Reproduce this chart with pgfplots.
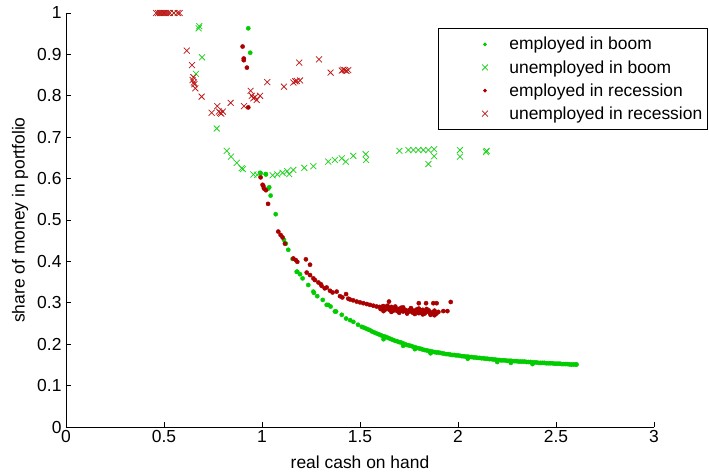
\documentclass[border=0pt]{standalone}
\usepackage{fontspec}
\setmainfont{Liberation Sans}
\usepackage{pgfplots}
\pgfplotsset{compat=1.18}
\definecolor{mgreen}{RGB}{0,204,0}
\definecolor{mgreenx}{RGB}{30,210,30}
\definecolor{mred}{RGB}{170,0,0}
\definecolor{mredx}{RGB}{190,25,25}
\begin{document}
\begin{tikzpicture}
\begin{axis}[
  name=ax,
  scale only axis, width=588bp, height=414bp,
  xmin=0, xmax=3, ymin=0, ymax=1,
  axis x line*=bottom, axis y line*=left,
  tick align=inside,
  xtick={0,0.5,1,1.5,2,2.5,3},
  ytick={0,0.1,0.2,0.3,0.4,0.5,0.6,0.7,0.8,0.9,1},
  major tick length=5bp,
  axis line style={line width=0.8bp, black},
  tick style={line width=0.8bp, black},
  font=\fontsize{17.5}{20}\selectfont,
  /pgf/number format/assume math mode=true,
  yticklabel style={xshift=-1bp},
  xlabel={real cash on hand}, ylabel={share of money in portfolio},
  xlabel style={at={(axis description cs:0.5,-0.0845)}, anchor=center},
  ylabel style={at={(axis description cs:-0.0782,0.5)}, anchor=center},
  legend style={at={(rel axis cs:0.633,0.964)}, anchor=north west, draw=black, line width=0.8bp,
    fill=white, font=\fontsize{17.5}{20}\selectfont, row sep=5bp, inner xsep=3bp, inner ysep=7bp},
  legend cell align=left,
  legend image code/.code={\path (-43bp,0bp) (22bp,0bp); \draw[#1] plot coordinates {(0bp,0bp)};},
  dotlegend/.style={legend image code/.code={\path (-43bp,0bp) (22bp,0bp); \draw[##1, mark size=1.4bp] plot coordinates {(0bp,0bp)};}},
]
\addplot[only marks, mark=*, mark size=2.1bp, color=mgreen, dotlegend] coordinates {
(0.930,0.963)(0.940,0.904)(0.990,0.614)(0.993,0.613)(1.019,0.611)(1.020,0.610)
(1.032,0.576)(1.037,0.579)(1.044,0.559)(1.070,0.514)(1.112,0.452)(1.122,0.443)
(1.134,0.428)(1.156,0.406)(1.177,0.375)(1.180,0.375)(1.194,0.369)(1.207,0.359)
(1.236,0.343)(1.262,0.327)(1.265,0.324)(1.282,0.316)(1.310,0.307)(1.330,0.295)
(1.338,0.295)(1.350,0.291)(1.372,0.279)(1.378,0.279)(1.407,0.271)(1.429,0.262)
(1.450,0.258)(1.466,0.254)(1.490,0.247)(1.509,0.242)
(1.52,0.240)(1.53,0.238)(1.54,0.236)(1.55,0.234)(1.56,0.231)(1.57,0.229)(1.58,0.227)(1.59,0.225)
(1.60,0.223)(1.61,0.221)(1.62,0.219)(1.62,0.212)(1.63,0.218)(1.64,0.216)(1.65,0.214)(1.66,0.212)
(1.67,0.210)(1.68,0.208)(1.69,0.207)(1.70,0.205)(1.71,0.204)(1.72,0.202)(1.72,0.196)(1.73,0.200)
(1.74,0.198)(1.75,0.197)(1.76,0.196)(1.77,0.194)(1.78,0.193)(1.78,0.188)(1.79,0.191)(1.80,0.190)
(1.81,0.189)(1.82,0.187)(1.83,0.186)(1.84,0.185)(1.85,0.184)(1.86,0.183)(1.86,0.178)(1.87,0.182)
(1.88,0.181)(1.89,0.180)(1.90,0.180)(1.91,0.179)(1.92,0.178)(1.93,0.177)(1.94,0.176)(1.95,0.176)
(1.96,0.175)(1.97,0.174)(1.98,0.174)(1.99,0.173)(2.00,0.173)(2.01,0.172)(2.02,0.171)(2.03,0.171)
(2.04,0.170)(2.05,0.165)(2.05,0.170)(2.06,0.169)(2.07,0.169)(2.08,0.168)(2.09,0.168)(2.10,0.167)
(2.11,0.167)(2.12,0.166)(2.13,0.166)(2.14,0.165)(2.15,0.165)(2.16,0.164)(2.17,0.164)(2.18,0.163)
(2.19,0.163)(2.20,0.162)(2.20,0.157)(2.21,0.162)(2.22,0.161)(2.23,0.161)(2.24,0.161)(2.25,0.160)
(2.26,0.160)(2.27,0.155)(2.27,0.160)(2.28,0.159)(2.29,0.159)(2.30,0.159)(2.31,0.158)(2.32,0.158)
(2.33,0.158)(2.34,0.158)(2.35,0.157)(2.36,0.157)(2.37,0.157)(2.38,0.156)(2.38,0.152)(2.39,0.156)
(2.40,0.156)(2.41,0.155)(2.42,0.155)(2.43,0.155)(2.44,0.155)(2.45,0.154)(2.46,0.154)(2.47,0.154)
(2.48,0.154)(2.49,0.153)(2.50,0.153)(2.51,0.153)(2.52,0.153)(2.53,0.152)(2.54,0.152)(2.55,0.152)
(2.56,0.152)(2.57,0.151)(2.58,0.151)(2.59,0.151)(2.60,0.151)(2.605,0.151)
};
\addlegendentry{employed in boom}
\addplot[only marks, mark=x, mark size=4.2bp, line width=0.75bp, color=mgreenx] coordinates {
(0.48,1.0)(0.55,1.0)(0.677,0.963)(0.680,0.968)(0.694,0.893)(0.663,0.853)(0.769,0.721)
(0.820,0.667)(0.842,0.653)(0.871,0.638)(0.896,0.625)(0.903,0.623)(0.956,0.610)(0.976,0.609)
(1.054,0.608)(1.078,0.610)(1.105,0.614)(1.129,0.618)(1.139,0.611)(1.160,0.621)(1.216,0.626)
(1.262,0.630)(1.338,0.641)(1.372,0.645)(1.407,0.649)(1.427,0.641)(1.466,0.655)(1.529,0.659)
(1.531,0.645)(1.701,0.667)(1.747,0.669)(1.772,0.669)(1.798,0.669)(1.823,0.669)(1.849,0.669)
(1.878,0.671)(1.878,0.654)(1.849,0.635)(2.010,0.669)(2.010,0.653)(2.143,0.664)(2.146,0.667)
};
\addlegendentry{unemployed in boom}
\addplot[only marks, mark=*, mark size=2.1bp, color=mred, dotlegend] coordinates {
(0.901,0.919)(0.907,0.890)(0.907,0.886)(0.923,0.868)(0.930,0.772)(0.993,0.603)(1.003,0.585)
(1.007,0.582)(1.010,0.576)(1.020,0.572)(1.031,0.539)(1.083,0.472)(1.095,0.464)(1.105,0.458)
(1.117,0.443)(1.160,0.407)(1.173,0.403)(1.180,0.399)(1.224,0.405)(1.228,0.373)(1.245,0.392)
(1.245,0.367)(1.262,0.359)(1.270,0.355)(1.288,0.349)(1.300,0.345)(1.304,0.341)(1.320,0.335)
(1.330,0.337)(1.347,0.329)(1.360,0.325)(1.381,0.327)(1.398,0.316)(1.410,0.313)(1.429,0.321)
(1.440,0.310)(1.449,0.308)(1.465,0.306)(1.483,0.303)(1.500,0.301)(1.517,0.299)(1.535,0.297)
(1.551,0.295)(1.568,0.293)(1.585,0.291)
(1.60,0.290)(1.61,0.286)(1.62,0.292)(1.63,0.284)(1.64,0.288)(1.65,0.283)(1.66,0.290)(1.67,0.281)
(1.68,0.286)(1.69,0.280)(1.70,0.284)(1.71,0.288)(1.72,0.279)(1.73,0.283)(1.74,0.277)(1.75,0.282)
(1.76,0.286)(1.77,0.276)(1.78,0.280)(1.79,0.284)(1.80,0.275)(1.81,0.279)(1.82,0.283)(1.83,0.274)
(1.84,0.278)(1.85,0.282)(1.86,0.273)(1.87,0.277)(1.88,0.281)(1.89,0.274)(1.90,0.278)
(1.62,0.280)(1.66,0.278)(1.70,0.276)(1.74,0.274)(1.78,0.273)(1.82,0.272)(1.86,0.271)(1.88,0.270)
(1.64,0.293)(1.68,0.291)(1.72,0.289)(1.76,0.287)(1.80,0.286)(1.84,0.285)
(1.605,0.285)(1.615,0.291)(1.635,0.289)(1.655,0.287)(1.675,0.286)(1.695,0.285)(1.715,0.283)
(1.735,0.281)(1.755,0.279)(1.775,0.281)(1.795,0.278)(1.815,0.276)(1.835,0.279)(1.855,0.277)(1.875,0.274)
(1.648,0.303)(1.800,0.299)(1.837,0.299)(1.874,0.299)(1.891,0.299)(1.963,0.302)(1.925,0.280)(1.946,0.280)
};
\addlegendentry{employed in recession}
\addplot[only marks, mark=x, mark size=4.2bp, line width=0.75bp, color=mredx] coordinates {
(0.46,1.0)(0.47,1.0)(0.48,1.0)(0.49,1.0)(0.50,1.0)(0.51,1.0)(0.52,1.0)(0.53,1.0)(0.55,1.0)(0.57,1.0)(0.58,1.0)
(0.616,0.909)(0.643,0.874)(0.646,0.838)(0.650,0.845)(0.652,0.832)(0.655,0.828)(0.660,0.818)
(0.692,0.798)(0.743,0.759)(0.772,0.775)(0.780,0.762)(0.786,0.759)(0.792,0.757)(0.800,0.762)
(0.840,0.783)(0.908,0.775)(0.942,0.812)(0.948,0.800)(0.956,0.794)(0.965,0.797)(0.973,0.790)
(0.990,0.800)(1.027,0.833)(1.112,0.822)(1.160,0.832)(1.170,0.835)(1.177,0.836)(1.194,0.837)
(1.190,0.880)(1.291,0.888)(1.350,0.856)(1.407,0.861)(1.415,0.863)(1.423,0.862)(1.431,0.860)(1.440,0.862)
};
\addlegendentry{unemployed in recession}
\end{axis}
\path (ax.south west) ++(-66bp,-45bp) (ax.north east) ++(55bp,13bp);
\end{tikzpicture}
\end{document}
